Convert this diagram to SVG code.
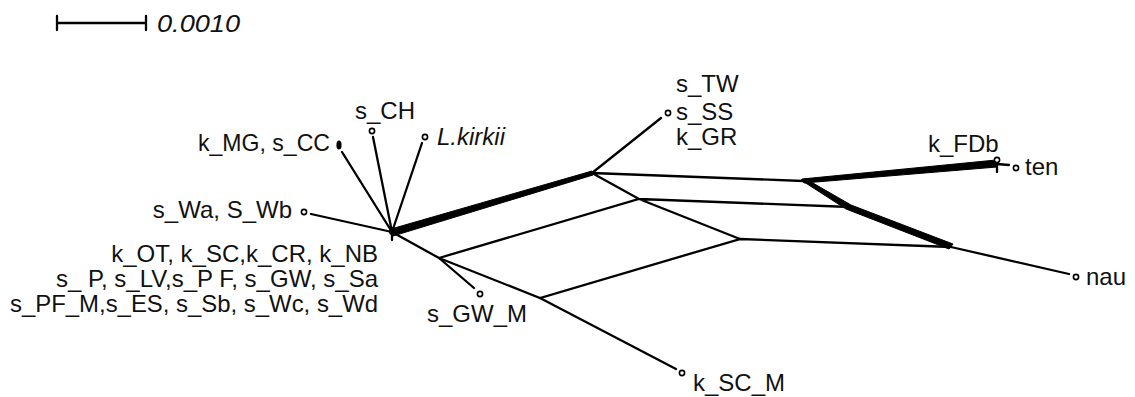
<svg xmlns="http://www.w3.org/2000/svg" width="1135" height="397" viewBox="0 0 1135 397">
  <style>
    .e { stroke: #000; stroke-width: 2.3; fill: none; stroke-linecap: round; }
    .t { font-family: "Liberation Sans", Arial, sans-serif; font-size: 24px; fill: #111; }
    .leaf { fill: #fff; stroke: #000; stroke-width: 1.6; }
    .bold { fill: #000; stroke: #000; stroke-width: 1; stroke-linejoin: round; }
  </style>
  <rect width="1135" height="397" fill="#fff"/>

  <!-- scale bar -->
  <g id="scale">
    <path class="e" d="M57,23 H146 M57,16 V30 M146,16 V30" stroke-width="2.5"/>
    <text class="t" x="157" y="32" font-size="30" font-style="italic" textLength="83" lengthAdjust="spacingAndGlyphs">0.0010</text>
  </g>

  <!-- split edges and pendant edges -->
  <g id="edges">
    <!-- central star -->
    <path class="e" d="M392,232 L342,152 M392,232 L373,137 M392,232 L422,143 M392,232 L311,214 M392,232 V240"/>
    <!-- strong split to the upper junction -->
    <polygon class="bold" points="391,229 592,171 593,175 393,236"/>
    <!-- box grid -->
    <path class="e" d="M392,232 L439,258 L540,298 L740,239 L639,199 L592,173 L803,181 M439,258 L639,199 L850,207 M740,239 L951,247"/>
    <!-- pendants -->
    <path class="e" d="M592,173 L661,118 M439,258 L474,288 M540,298 L676,369 M951,247 L1069,274"/>
    <!-- heavy bundle towards nau -->
    <polygon class="bold" points="801,180 806,179 851,205 953,244 949,249 846,209"/>
    <!-- heavy bundle towards k_FDb / ten -->
    <polygon class="bold" points="802,179 996,160 997,167 804,183"/>
    <path class="e" d="M997,158 V172 M997,164 L1009,165"/>
  </g>

  <g id="n-kmg">
    <ellipse cx="339" cy="145" rx="2.6" ry="4.5" fill="#000"/>
    <text class="t" x="330" y="151" text-anchor="end" textLength="132" lengthAdjust="spacingAndGlyphs">k_MG, s_CC</text>
  </g>
  <g id="n-sch">
    <circle class="leaf" cx="372" cy="131" r="2.6"/>
    <text class="t" x="355" y="119">s_CH</text>
  </g>
  <g id="n-lkirkii">
    <circle class="leaf" cx="425" cy="137" r="2.6"/>
    <text class="t" x="437" y="145" font-style="italic">L.kirkii</text>
  </g>
  <g id="n-swa">
    <circle class="leaf" cx="304" cy="212" r="2.6"/>
    <text class="t" x="292" y="218" text-anchor="end">s_Wa, S_Wb</text>
  </g>
  <g id="n-center">
    <circle cx="392" cy="232" r="3" fill="#000"/>
    <text class="t" x="378" y="262" text-anchor="end">k_OT, k_SC,k_CR, k_NB</text>
    <text class="t" x="378" y="287" text-anchor="end">s_ P, s_LV,s_P F, s_GW, s_Sa</text>
    <text class="t" x="378" y="312" text-anchor="end" textLength="368" lengthAdjust="spacingAndGlyphs">s_PF_M,s_ES, s_Sb, s_Wc, s_Wd</text>
  </g>
  <g id="n-sss">
    <circle class="leaf" cx="668" cy="113" r="2.6"/>
    <text class="t" x="676" y="92">s_TW</text>
    <text class="t" x="676" y="120">s_SS</text>
    <text class="t" x="676" y="145">k_GR</text>
  </g>
  <g id="n-sgwm">
    <circle class="leaf" cx="480" cy="294" r="2.6"/>
    <text class="t" x="427" y="322">s_GW_M</text>
  </g>
  <g id="n-kscm">
    <circle class="leaf" cx="682" cy="373" r="2.6"/>
    <text class="t" x="693" y="391">k_SC_M</text>
  </g>
  <g id="n-kfdb">
    <circle class="leaf" cx="997" cy="160" r="2.6"/>
    <text class="t" x="928" y="152">k_FDb</text>
  </g>
  <g id="n-ten">
    <circle class="leaf" cx="1016" cy="168" r="2.6"/>
    <text class="t" x="1025" y="175">ten</text>
  </g>
  <g id="n-nau">
    <circle class="leaf" cx="1076" cy="277" r="2.6"/>
    <text class="t" x="1086" y="285">nau</text>
  </g>
</svg>
